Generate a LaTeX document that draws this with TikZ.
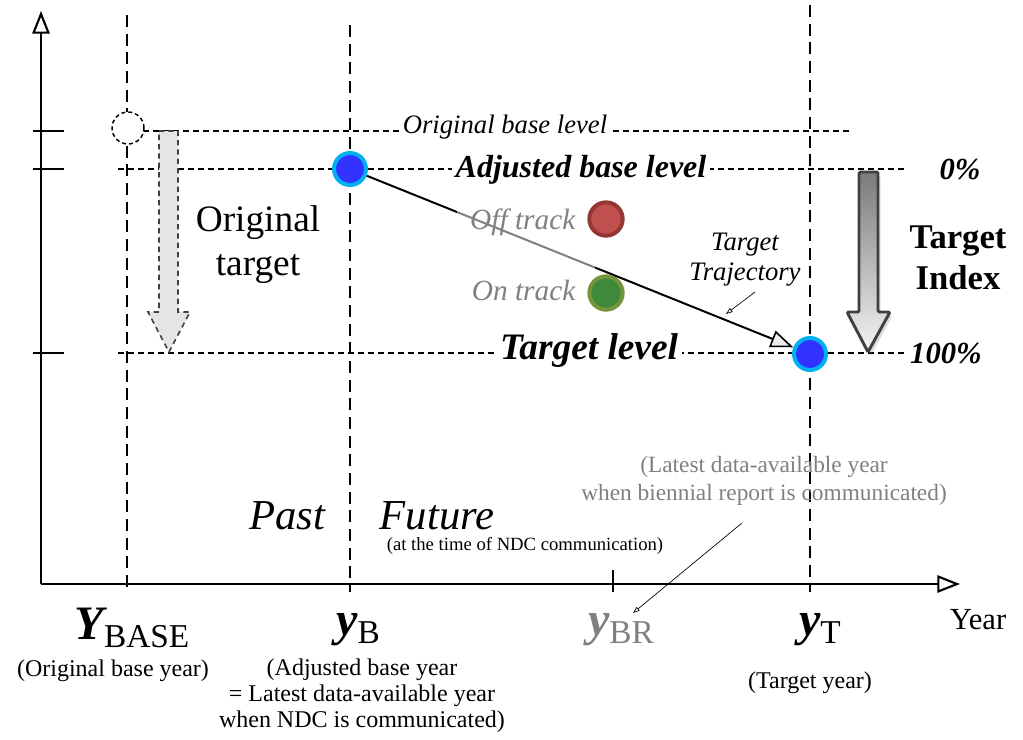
\documentclass[tikz,border=0pt]{standalone}
\usepackage{fontspec}
\setmainfont{Liberation Serif}
\usetikzlibrary{arrows.meta,shadows}
\definecolor{dotBlue}{HTML}{3333FF}
\definecolor{dotRing}{HTML}{00B0F0}
\definecolor{offFill}{HTML}{C0504D}
\definecolor{offRing}{HTML}{943634}
\definecolor{onFill}{HTML}{3E8A3A}
\definecolor{onRing}{HTML}{77933C}
\definecolor{noteGray}{HTML}{808080}
\definecolor{idxTop}{HTML}{7A7A7A}
\definecolor{idxBottom}{HTML}{F4F4F4}
\definecolor{idxEdge}{HTML}{404040}

\newcommand{\yrlabel}[2]{{\fontsize{36}{36}\selectfont\bfseries\itshape #1}{\fontsize{25}{25}\selectfont\raisebox{-6pt}{#2}}}

\begin{document}
\begin{tikzpicture}[x=0.75pt, y=-0.75pt,
    axisline/.style={line width=2.2pt, -{Triangle[open, length=17pt, width=13pt, line width=1.6pt]}},
    vguide/.style={line width=0.8pt, dash pattern=on 9pt off 5pt},
    hguide/.style={line width=0.8pt, dash pattern=on 4.5pt off 3pt},
    levellabel/.style={fill=white, inner sep=3pt},
    bluedot/.style={circle, fill=dotBlue, draw=dotRing, line width=3pt, minimum size=24pt, inner sep=0pt},
    trackdot/.style={circle, line width=3pt, minimum size=25pt, inner sep=0pt},
    tracklabel/.style={anchor=east, text=noteGray, font=\fontsize{22}{24}\selectfont\itshape},
    caption/.style={align=center, font=\fontsize{18}{19.5}\selectfont}]

    \useasboundingbox (0,0) rectangle (1023,739);

    % Axes
    \coordinate (origin) at (41,584);
    \coordinate (ytop) at (41,11);
    \coordinate (xend) at (960,584);
    \draw[axisline] (origin) -- (ytop);
    \draw[axisline] (origin) -- (xend);
    \foreach \lvl in {131,169,353}
        \draw[line width=1pt] (33,\lvl) -- (64,\lvl);
    \draw[line width=0.8pt] (613,570) -- (613,592);

    % Year guides
    \draw[vguide] (127,15) -- (127,592);
    \draw[vguide] (350,25) -- (350,592);
    \draw[vguide] (810,5) -- (810,592);

    % Level guides
    \draw[hguide] (143,131) -- (850,131);
    \draw[hguide] (118,169) -- (905,169);
    \draw[hguide] (118,353) -- (905,353);
    \node[levellabel, font=\fontsize{20}{22}\selectfont\itshape] (origlvl) at (505,127) {Original base level};
    \node[levellabel, font=\fontsize{24}{26}\selectfont\bfseries\itshape] (adjlvl) at (581,170) {Adjusted base level};
    \node[levellabel, font=\fontsize{28}{30}\selectfont\bfseries\itshape] (tgtlvl) at (589,351) {Target level};

    % Original target (dashed)
    \node[circle, draw, fill=white, line width=1.1pt, dash pattern=on 3pt off 2.2pt, minimum size=24pt, inner sep=0pt] (origdot) at (128,128) {};
    \path[draw=idxEdge, fill=gray!20, line width=1.2pt, dash pattern=on 4pt off 3pt]
        (159,131) -- (178,131) -- (178,312) -- (190,312) -- (169,352) -- (148,312) -- (159,312) -- cycle;
    \node[align=center, font=\fontsize{28}{33}\selectfont] (origtgt) at (258,245) {Original\\target};

    % Trajectory
    \node[bluedot] (adjdot) at (350,169) {};
    \node[bluedot] (tgtdot) at (810,354) {};
    \draw[line width=1.5pt, -{Triangle[length=17pt, width=13pt, fill=gray!15, line width=1.2pt]}] (adjdot) -- (tgtdot);
    \fill[white, opacity=0.5] (457,198) rectangle (595,305);

    % Off / on track
    \node[trackdot, fill=offFill, draw=offRing] (offdot) at (606,219) {};
    \node[trackdot, fill=onFill, draw=onRing] (ondot) at (606,293) {};
    \node[tracklabel] (offlbl) at (580,222) {Off track};
    \node[tracklabel] (onlbl) at (580,290) {On track};

    \node[align=center, font=\fontsize{20}{22.5}\selectfont\itshape] (trajlbl) at (745,260) {Target\\Trajectory};
    \coordinate (trajtail) at (755,292);
    \coordinate (trajhead) at (726,314);
    \draw[line width=0.5pt, -{Triangle[open, length=5pt, width=3.5pt]}] (trajtail) -- (trajhead);

    % Target index
    \path[draw=idxEdge, line width=2.2pt, rounded corners=1pt, top color=idxTop, bottom color=idxBottom,
          drop shadow={opacity=0.25, shadow xshift=2pt, shadow yshift=-3pt}]
        (859,172) -- (878,172) -- (878,312) -- (890,312) -- (868,352) -- (847,312) -- (859,312) -- cycle;
    \node[font=\fontsize{23}{25}\selectfont\bfseries\itshape] (zero) at (960,170) {0\%};
    \node[font=\fontsize{23}{25}\selectfont\bfseries\itshape] (hundred) at (946,353) {100\%};
    \node[align=center, font=\fontsize{26}{31}\selectfont\bfseries] (idxlbl) at (958,258) {Target\\Index};

    % Past / future
    \node[font=\fontsize{32}{34}\selectfont\itshape] (past) at (287,516) {Past};
    \node[font=\fontsize{32}{34}\selectfont\itshape] (future) at (437,516) {Future};
    \node[font=\fontsize{14}{16}\selectfont] (ndctime) at (525,546) {(at the time of NDC communication)};

    % Biennial report note
    \node[caption, text=noteGray, font=\fontsize{17.5}{21}\selectfont] (brnote) at (764,481) {(Latest data-available year\\when biennial report is communicated)};
    \coordinate (brtail) at (742,523);
    \coordinate (brhead) at (633,613);
    \draw[line width=0.5pt, -{Triangle[open, length=5pt, width=3.5pt]}] (brtail) -- (brhead);

    % Year labels
    \node (ybase) at (132,628) {\yrlabel{Y}{BASE}};
    \node (yb) at (358,630) {\yrlabel{y}{B}};
    \node[text=noteGray] (ybr) at (621,630) {\yrlabel{y}{BR}};
    \node (yt) at (820,630) {\yrlabel{y}{T}};
    \node[font=\fontsize{23}{25}\selectfont] (yearlbl) at (978,620) {Year};

    \node[caption] (ybasecap) at (113,671) {(Original base year)};
    \node[caption] (ybcap) at (362,696) {(Adjusted base year\\= Latest data-available year\\when NDC is communicated)};
    \node[caption] (ytcap) at (810,683) {(Target year)};
\end{tikzpicture}
\end{document}
